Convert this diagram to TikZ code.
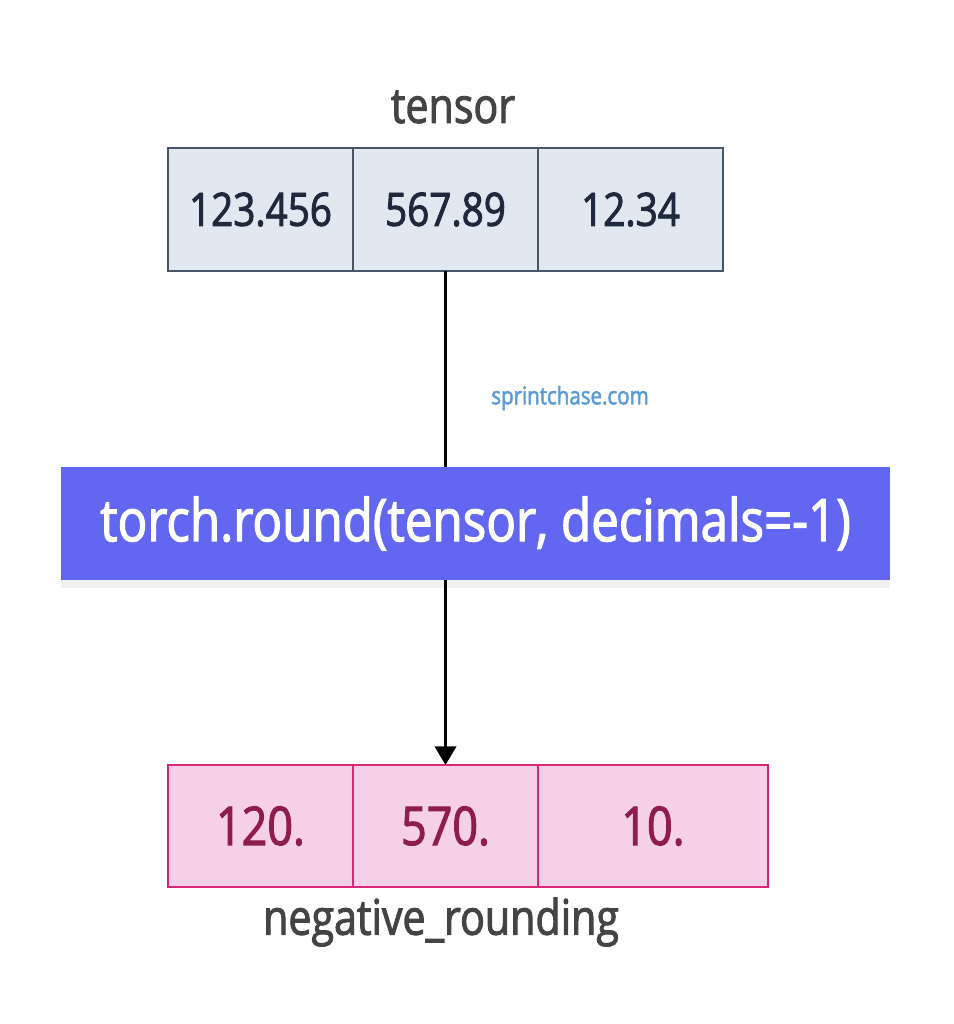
\documentclass[tikz,border=0pt]{standalone}
\usepackage{fontspec}
\setmainfont{Open Sans}[FakeStretch=0.84, FakeBold=2]
\usetikzlibrary{positioning, arrows.meta, shadows}
\definecolor{slateb}{RGB}{71,85,105}
\definecolor{slatef}{RGB}{226,232,240}
\definecolor{slatet}{RGB}{30,41,59}
\definecolor{pinkb}{RGB}{219,39,119}
\definecolor{pinkf}{RGB}{245,208,232}
\definecolor{pinkt}{RGB}{142,28,78}
\definecolor{indigo}{RGB}{99,102,241}
\definecolor{labelg}{RGB}{68,68,68}
\definecolor{markb}{RGB}{91,155,213}

\begin{document}
\begin{tikzpicture}[x=0.75pt, y=-0.75pt,
            tc/.style={draw=slateb, fill=slatef, line width=1.8pt, outer sep=0pt,
              minimum width=138.75pt, minimum height=92.25pt, text=slatet,
              font=\fontsize{34.5}{40}\selectfont},
            rc/.style={draw=pinkb, fill=pinkf, line width=1.8pt, outer sep=0pt,
              minimum width=138.75pt, minimum height=91.5pt, text=pinkt,
              font=\fontsize{40}{46}\selectfont},
            op/.style={fill=indigo, text=white, minimum width=621.75pt,
              minimum height=84.75pt, font=\fontsize{44}{50}\selectfont,
              drop shadow={opacity=0.12, shadow xshift=0pt, shadow yshift=-6pt}},
            lbl/.style={text=labelg, font=\fontsize{36.75}{42}\selectfont},
            ->/.style={-{Triangle[width=16pt, length=14pt]}, line width=2.2pt}]
          \useasboundingbox (0,0) rectangle (953,1024);
          \node[tc, anchor=north west] (t1) at (168,148) {123.456};
          \node[tc, right=0pt of t1] (t2) {567.89};
          \node[tc, right=0pt of t2] (t3) {12.34};
          \node[lbl] (tl) at (453,107) {tensor};
          \node[op] (op) at (475.5,523.5) {torch.round(tensor, decimals=-1)};
          \node[text=markb, font=\fontsize{18.3}{22}\selectfont] (wm) at (570,398) {sprintchase.com};
          \node[rc, anchor=north west] (r1) at (168,765) {120.};
          \node[rc, right=0pt of r1] (r2) {570.};
          \node[rc, right=0pt of r2, minimum width=172.5pt] (r3) {10.};
          \node[lbl] (rl) at (441,922) {negative\_rounding};
          \draw [line width=2.2pt] (t2.south) to (t2.south |- op.north);
          \draw [->] (t2.south |- op.south) to (r2.north);
        \end{tikzpicture}
\end{document}
